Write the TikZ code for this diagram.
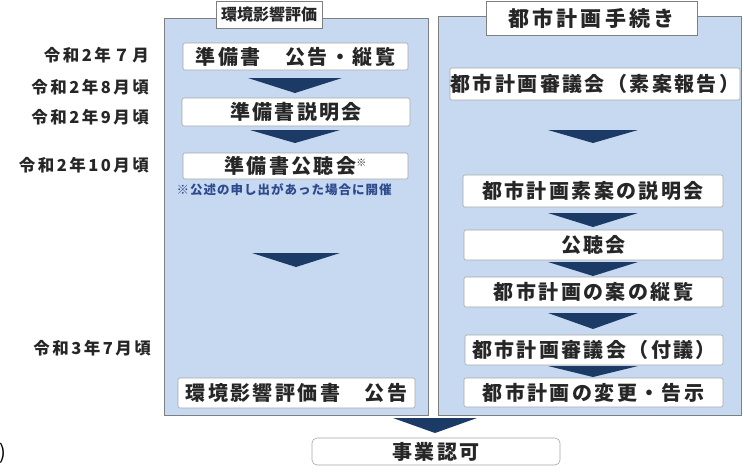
\documentclass[tikz,border=0pt]{standalone}
\usepackage{fontspec}
\setmainfont{Noto Sans CJK JP}
\newfontfamily\boxfont[LetterSpace=12]{Noto Sans CJK JP}
\newfontfamily\datefont[LetterSpace=15]{Noto Sans CJK JP}
\newfontfamily\ltfont[LetterSpace=0]{Noto Sans CJK JP}
\newfontfamily\rtfont[LetterSpace=15]{Noto Sans CJK JP}
\newfontfamily\notefont[LetterSpace=8]{Noto Sans CJK JP}
\definecolor{panelblue}{HTML}{C6D9F1}
\definecolor{panelline}{HTML}{7F7F7F}
\definecolor{boxline}{HTML}{A6A6A6}
\definecolor{chevcol}{HTML}{1C3A66}
\definecolor{txt}{HTML}{262626}
\definecolor{notecol}{HTML}{2E4A8C}
\newcommand{\chevron}[4]{\fill[chev] ({#1-#3},#2) -- ({#1+#3},#2) -- (#1,#4) -- cycle;}
\tikzset{
  panel/.style={draw=panelline, line width=0.8pt, fill=panelblue, inner sep=0pt},
  stepbox/.style={draw=boxline, line width=0.6pt, fill=white, rounded corners=2pt, inner sep=0pt,
    text=txt, font=\boxfont\bfseries\fontsize{20}{22}\selectfont},
  titlebox/.style={draw=panelline, line width=0.8pt, fill=white, inner sep=0pt, text=txt},
  datelabel/.style={anchor=east, inner sep=0pt, text=txt, font=\datefont\bfseries\fontsize{16.5}{18}\selectfont},
  chev/.style={fill=chevcol},
}
\begin{document}
\begin{tikzpicture}[x=1pt,y=-1pt]
\useasboundingbox (0,0) rectangle (744,472);
% panels
\node[panel, minimum width=264pt, minimum height=397pt] (lp) at (296,216.5) {};
\node[panel, minimum width=303pt, minimum height=399pt] (rp) at (589.5,215.5) {};
% titles
\node[titlebox, minimum width=106pt, minimum height=27pt, font=\ltfont\bfseries\fontsize{16}{18}\selectfont] (lt) at (269,14.5) {環境影響評価};
\node[titlebox, minimum width=211pt, minimum height=34pt, font=\rtfont\bfseries\fontsize{21}{23}\selectfont] (rt) at (591.5,18) {都市計画手続き};
% left column
\node[stepbox, minimum width=225pt, minimum height=27pt] (b1) at (295.5,56.5) {準備書　公告・縦覧};
\node[stepbox, minimum width=228pt, minimum height=28pt] (b2) at (296,112) {準備書説明会};
\node[stepbox, minimum width=225pt, minimum height=26pt] (b3) at (295.5,166) {準備書公聴会\textsuperscript{\fontsize{10}{10}\selectfont ※}};
\node[inner sep=0pt, text=notecol, font=\notefont\bfseries\fontsize{12.5}{14}\selectfont] (note) at (284,190) {※公述の申し出があった場合に開催};
\node[stepbox, minimum width=237pt, minimum height=30pt] (b4) at (296.5,393) {環境影響評価書　公告};
\chevron{295}{78}{47}{93}
\chevron{295}{130}{45}{143}
\chevron{296}{253}{44}{267}
% right column
\node[stepbox, minimum width=290pt, minimum height=32pt] (r1) at (595,84) {都市計画審議会（素案報告）};
\node[stepbox, minimum width=260pt, minimum height=32pt] (r2) at (593,191) {都市計画素案の説明会};
\node[stepbox, minimum width=259pt, minimum height=30pt] (r3) at (593.5,245) {公聴会};
\node[stepbox, minimum width=259pt, minimum height=30pt] (r4) at (593.5,292) {都市計画の案の縦覧};
\node[stepbox, minimum width=258pt, minimum height=30pt] (r5) at (594,350) {都市計画審議会（付議）};
\node[stepbox, minimum width=259pt, minimum height=29pt] (r6) at (593.5,392.5) {都市計画の変更・告示};
\chevron{593}{130}{45}{143}
\chevron{593}{213}{45}{227}
\chevron{593}{262}{45}{276}
\chevron{593}{313}{45}{329}
\chevron{593}{366}{45}{377}
% final
\chevron{435}{418}{42}{433}
\node[stepbox, rounded corners=5pt, minimum width=248pt, minimum height=27pt] (fin) at (436,451.5) {事業認可};
% dates
\node[datelabel] (d1) at (149,55) {令和2年７月};
\node[datelabel] (d2) at (149,87) {令和2年8月頃};
\node[datelabel] (d3) at (149,117) {令和2年9月頃};
\node[datelabel] (d4) at (149,165) {令和2年10月頃};
\node[datelabel] (d5) at (151,348) {令和3年7月頃};
% cut-off bracket at the left edge
\node[anchor=east, inner sep=0pt, text=black, font=\fontsize{20}{20}\selectfont] (paren) at (6,453) {)};
\end{tikzpicture}
\end{document}
